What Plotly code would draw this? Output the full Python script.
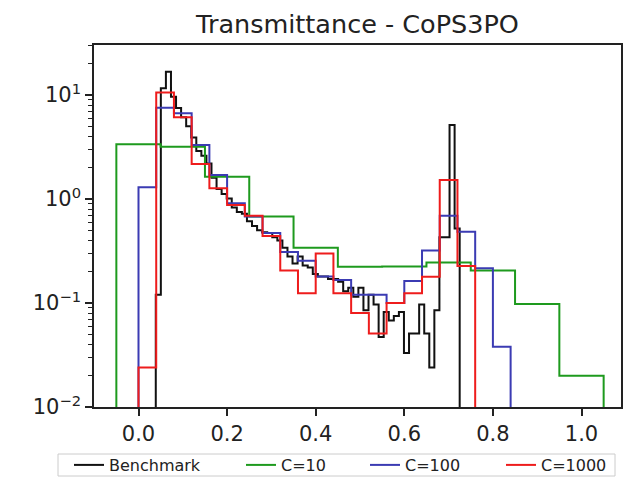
import numpy as np
import plotly.graph_objects as go

# ---------------- data ----------------
series_names = ["Benchmark", "C=10", "C=100", "C=1000"]

# bin ranges [first edge, last edge] of each step histogram
bench_range = [0.039, 0.725]
c10_range = [-0.05, 1.05]
c100_range = [0.0, 0.84]
c1000_range = [0.0, 0.76]

bench_vals = [0.12, 11.6, 16.7, 9.6, 7.5, 6.1, 5.0, 3.9, 2.9, 2.6,
              2.2, 1.6, 1.25, 1.12, 1.01, 0.83, 0.75, 0.72, 0.61, 0.55,
              0.50, 0.48, 0.47, 0.43, 0.40, 0.34, 0.28, 0.24, 0.28, 0.23,
              0.22, 0.19, 0.18, 0.18, 0.17, 0.17, 0.16, 0.13, 0.14, 0.115,
              0.14, 0.085, 0.12, 0.097, 0.047, 0.082, 0.068, 0.075, 0.082, 0.033,
              0.051, 0.051, 0.097, 0.051, 0.024, 0.085, 0.43, 0.43, 5.15, 0.52]
c10_vals = [3.36, 3.18, 1.64, 0.68, 0.34, 0.223, 0.225, 0.245, 0.205, 0.098, 0.020]
c100_vals = [1.3, 7.55, 6.67, 3.3, 1.70, 0.91, 0.68, 0.47, 0.31, 0.255, 0.18,
             0.166, 0.12, 0.12, 0.10, 0.163, 0.32, 0.69, 0.485, 0.216, 0.038]
c1000_vals = [0.024, 10.6, 6.1, 2.17, 1.27, 0.875, 0.69, 0.44, 0.205, 0.124,
              0.30, 0.124, 0.080, 0.051, 0.100, 0.124, 0.179, 1.52, 0.227]

x_ticks = [0.0, 0.2, 0.4, 0.6, 0.8, 1.0]
y_ticks = [0.01, 0.1, 1, 10]
y_ticktext = ["10<sup>\u22122</sup>", "10<sup>\u22121</sup>", "10<sup>0</sup>", "10<sup>1</sup>"]

# ---------------- styling ----------------
colors = ["#111111", "#1e9a1e", "#3b3bb3", "#ee1c1c"]
FONT = "DejaVu Sans"
W, H = 631, 477
L, R, T, B = 94, 10, 45, 70
PW, PH = W - L - R, H - T - B


def step_path(rng, vals, floor=1e-4):
    edges = np.linspace(rng[0], rng[1], len(vals) + 1)
    x = np.repeat(edges, 2)
    y = np.concatenate([[floor], np.repeat(np.asarray(vals, float), 2), [floor]])
    return x, y


fig = go.Figure()
ranges = [bench_range, c10_range, c100_range, c1000_range]
values = [bench_vals, c10_vals, c100_vals, c1000_vals]
legend_ids = ["legend", "legend2", "legend3", "legend4"]
for name, rng, vals, col, lg in zip(series_names, ranges, values, colors, legend_ids):
    x, y = step_path(rng, vals)
    fig.add_trace(go.Scatter(x=x, y=y, mode="lines", name=name,
                             line=dict(color=col, width=2),
                             legend=lg, hoverinfo="skip"))

# legend items laid out like the matplotlib legend (text start pixels)
text_starts = [111, 283, 407, 543]
legend_layout = {}
for lg, ts in zip(legend_ids, text_starts):
    legend_layout[lg] = dict(
        xref="container", yref="container",
        x=(ts - 42) / W, xanchor="left",
        y=1 - 465 / H, yanchor="middle",
        orientation="h", bgcolor="rgba(0,0,0,0)", borderwidth=0,
        font=dict(family=FONT, size=16, color="#222222"),
    )

minor_vals = [m * 10.0 ** e for e in range(-2, 2) for m in range(2, 10)]

fig.update_layout(
    width=W, height=H,
    margin=dict(l=L, r=R, t=T, b=B, autoexpand=False),
    paper_bgcolor="white", plot_bgcolor="white",
    font=dict(family=FONT, color="#222222"),
    title=dict(text="Transmittance - CoPS3PO", x=0.5, xref="paper", xanchor="center",
               y=1 - 24 / H, yref="container", yanchor="middle",
               font=dict(family=FONT, size=25.5, color="#222222")),
    showlegend=True,
    **legend_layout,
    shapes=[dict(type="rect", xref="paper", yref="paper",
                 x0=(58 - L) / PW, x1=(615 - L) / PW,
                 y0=(H - B - 454) / PH, y1=(H - B - 476) / PH,
                 line=dict(color="#cccccc", width=1), fillcolor="rgba(0,0,0,0)",
                 layer="below")],
)

fig.update_xaxes(
    range=[(L - 138.5) / 443, (W - R - 138.5) / 443],
    tickmode="array", tickvals=x_ticks, ticktext=[f"{v:.1f}" for v in x_ticks],
    ticks="outside", ticklen=7, tickwidth=1.5, tickcolor="#222222",
    tickfont=dict(family=FONT, size=21, color="#222222"),
    showgrid=False, zeroline=False, automargin=False,
    showline=True, linecolor="#222222", linewidth=1.5, mirror=True,
)
fig.update_yaxes(
    type="log", range=[-2, 1.481],
    tickmode="array", tickvals=y_ticks, ticktext=y_ticktext,
    ticks="outside", ticklen=7, tickwidth=1.5, tickcolor="#222222",
    tickfont=dict(family=FONT, size=21, color="#222222"),
    minor=dict(tickmode="array", tickvals=minor_vals, ticks="outside",
               ticklen=4, tickwidth=1, tickcolor="#222222", showgrid=False),
    showgrid=False, zeroline=False, automargin=False,
    showline=True, linecolor="#222222", linewidth=1.5, mirror=True,
)

fig.write_html("out.html")
